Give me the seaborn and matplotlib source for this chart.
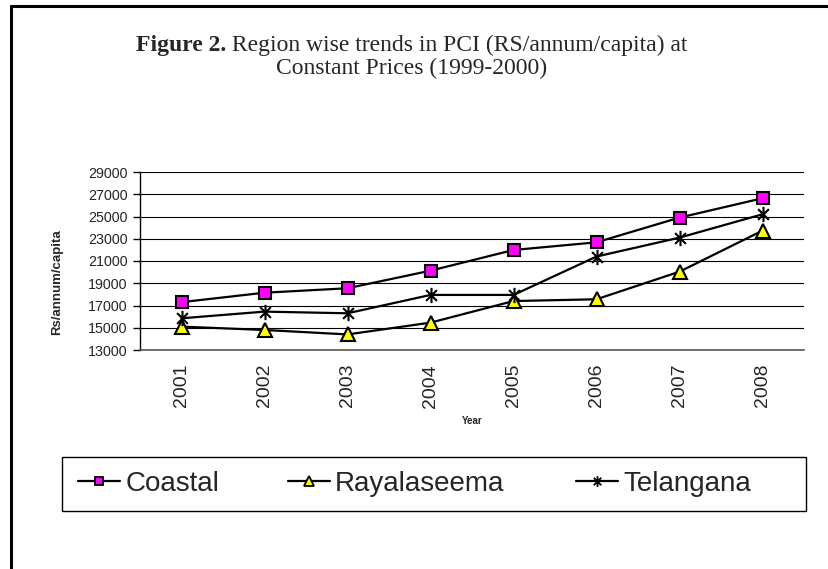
import pandas as pd
import matplotlib.pyplot as plt
import seaborn as sns
from matplotlib.lines import Line2D
from matplotlib.patches import Rectangle
from matplotlib.path import Path

# data
years = [2001, 2002, 2003, 2004, 2005, 2006, 2007, 2008]
coastal = [17300, 18150, 18550, 20130, 21990, 22680, 24900, 26640]
rayalaseema = [15100, 14800, 14400, 15460, 17400, 17560, 20040, 23730]
telangana = [15850, 16450, 16300, 17950, 17950, 21400, 23100, 25200]
region_names = ['Coastal', 'Rayalaseema', 'Telangana']
y_ticks = list(range(13000, 29001, 2000))

df = pd.DataFrame({
    'Year': years * 3,
    'PCI': coastal + rayalaseema + telangana,
    'Region': [r for r in region_names for _ in years],
})

# Excel-like asterisk: vertical bar plus an X
s = 0.7071
asterisk = Path([(0, -1), (0, 1), (-s, -s), (s, s), (-s, s), (s, -s)],
                [Path.MOVETO, Path.LINETO] * 3)

styles = {
    'Coastal': dict(marker='s', markerfacecolor='#FF00FF', markersize=9),
    'Rayalaseema': dict(marker='^', markerfacecolor='#FFFF00', markersize=10.5),
    'Telangana': dict(marker=asterisk, markerfacecolor='none', markersize=11),
}

sns.set_style('white')
plt.rcParams['font.family'] = ['Liberation Sans', 'DejaVu Sans']

W, H = 829, 569
fig = plt.figure(figsize=(W / 100, H / 100), dpi=100)
ax = fig.add_axes([140 / W, 1 - 350 / H, 664 / W, 178 / H])

for name in region_names:
    sub = df[df['Region'] == name]
    sns.lineplot(data=sub, x='Year', y='PCI', ax=ax, color='black', linewidth=1.6,
                 markeredgecolor='black', markeredgewidth=1.5, label=name,
                 legend=False, **styles[name])

ax.set_xlim(2000.5, 2008.5)
ax.set_ylim(13000, 29000)
ax.set_yticks(y_ticks)
ax.set_yticklabels([str(v) for v in y_ticks], fontsize=10.3)
ax.set_xticks(years)
ax.set_xticklabels([str(y) for y in years], rotation=90, fontsize=14)
ax.set_xticks([2000.5, 2002.5, 2004.5, 2006.5, 2008.5], minor=True)
ax.tick_params(axis='x', which='major', length=0, pad=10)
ax.tick_params(axis='x', which='minor', length=5, width=1, color='#555555', direction='out')
ax.tick_params(axis='y', length=5, width=1, color='black', direction='out', left=True, pad=4)

ax.grid(axis='y', color='black', linewidth=0.8)
ax.grid(axis='x', visible=False)
for side in ['top', 'right']:
    ax.spines[side].set_visible(False)
ax.spines['left'].set_color('black')
ax.spines['left'].set_linewidth(1)
ax.spines['bottom'].set_color('#555555')
ax.spines['bottom'].set_linewidth(1.2)

ax.set_xlabel('Year', fontsize=7, fontweight='bold')
ax.xaxis.set_label_coords(0.5, -0.37)
ax.set_ylabel('Rs/annum/capita', fontsize=9.5, fontweight='bold')
ax.yaxis.set_label_coords(-0.116, 0.38)

# legend: frame box plus one entry per region at its own position
fig.add_artist(Rectangle((62 / W, 1 - 511 / H), 744 / W, 54 / H, transform=fig.transFigure,
                         facecolor='none', edgecolor='black', linewidth=1))
entry_x = [78, 288, 576]
for name, xpos in zip(region_names, entry_x):
    st = dict(styles[name])
    st['markersize'] = st['markersize'] * 0.7
    h = Line2D([], [], color='black', linewidth=1.6, markeredgecolor='black',
               markeredgewidth=1.3, **st)
    fig.legend([h], [name], loc='center left', bbox_to_anchor=(xpos / W, 1 - 484 / H),
               fontsize=20, frameon=False, handlelength=1.5, handletextpad=0.2,
               borderpad=0, borderaxespad=0)

# two line title with bold prefix
fig.canvas.draw()
renderer = fig.canvas.get_renderer()
serif = ['Liberation Serif', 'DejaVu Serif']
t_bold = fig.text(0, 1 - 51 / H, 'Figure 2.', fontsize=17, fontweight='bold',
                  family=serif, va='baseline', ha='left')
t_rest = fig.text(0, 1 - 51 / H, ' Region wise trends in PCI (RS/annum/capita) at',
                  fontsize=17, family=serif, va='baseline', ha='left')
w1 = t_bold.get_window_extent(renderer).width
w2 = t_rest.get_window_extent(renderer).width
x0 = 412 - (w1 + w2) / 2
t_bold.set_x(x0 / W)
t_rest.set_x((x0 + w1) / W)
fig.text(412 / W, 1 - 74 / H, 'Constant Prices (1999-2000)', fontsize=17,
         family=serif, va='baseline', ha='center')

# outer frame (left and top edges)
fig.add_artist(Line2D([11 / W, 11 / W], [0, 1 - 6 / H], color='black', linewidth=2.2))
fig.add_artist(Line2D([11 / W, 1], [1 - 6 / H, 1 - 6 / H], color='black', linewidth=2.2))

fig.savefig('out.png', dpi=100)
